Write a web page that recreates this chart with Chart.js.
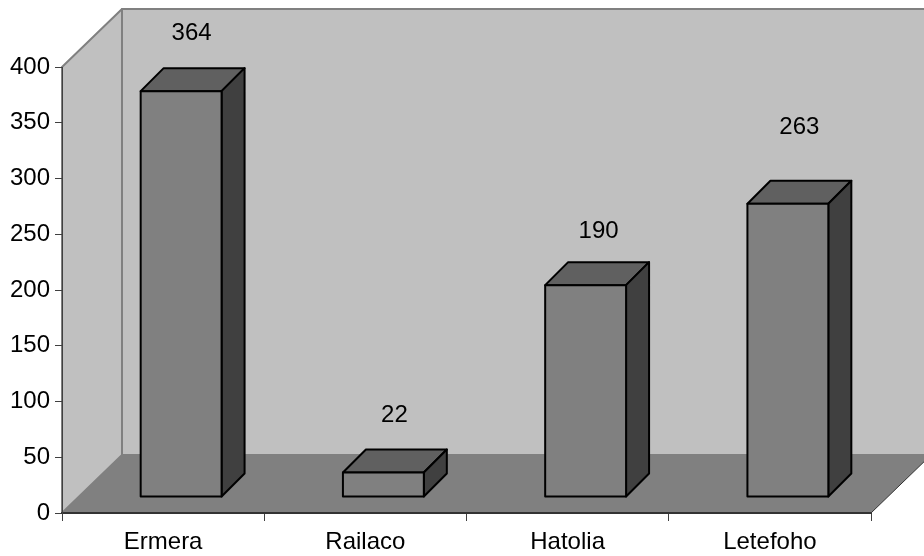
<!DOCTYPE html>
<html>
<head>
<meta charset="utf-8">
<title>Chart</title>
<script src="https://cdn.jsdelivr.net/npm/chart.js@4"></script>
<style>
  html, body { margin: 0; padding: 0; background: #fff; }
  canvas { display: block; }
</style>
</head>
<body>
<canvas id="myChart" width="924" height="556"></canvas>
<script>
const categories = ["Ermera", "Railaco", "Hatolia", "Letefoho"];
const counts = [364, 22, 190, 263];
const yMax = 400;
const yStep = 50;

const fontName = "'Liberation Sans', Arial, sans-serif";
const fontSize = 24;

// depth of the box the chart sits in, and of each bar
const wallDx = 60, wallDy = -58;
const barShiftX = 18, barShiftY = -16;
const barDepth = 23;
// the labels do not sit at one height over the bars in the original
const labelLift = [58, 57, 54, 76];
const labelNudge = [10.5, 11, 13, 11.5];

function poly(ctx, pts, fill, stroke, lw) {
  ctx.beginPath();
  ctx.moveTo(pts[0][0], pts[0][1]);
  for (let i = 1; i < pts.length; i++) ctx.lineTo(pts[i][0], pts[i][1]);
  ctx.closePath();
  if (fill) { ctx.fillStyle = fill; ctx.fill(); }
  if (stroke) { ctx.strokeStyle = stroke; ctx.lineWidth = lw; ctx.lineJoin = "round"; ctx.stroke(); }
}

const box3d = {
  id: "box3d",
  // walls have to go down before the axes are drawn
  beforeDraw(chart) {
    const ctx = chart.ctx;
    const a = chart.chartArea;
    ctx.save();
    // back wall
    poly(ctx, [[a.left + wallDx, a.top + wallDy], [a.right + wallDx, a.top + wallDy],
               [a.right + wallDx, a.bottom + wallDy], [a.left + wallDx, a.bottom + wallDy]],
         "#c0c0c0", "#808080", 2);
    // left wall
    poly(ctx, [[a.left, a.top], [a.left + wallDx, a.top + wallDy],
               [a.left + wallDx, a.bottom + wallDy], [a.left, a.bottom]],
         "#c0c0c0", "#808080", 2);
    // floor
    poly(ctx, [[a.left, a.bottom], [a.left + wallDx, a.bottom + wallDy],
               [a.right + wallDx, a.bottom + wallDy], [a.right, a.bottom]], "#808080");
    ctx.strokeStyle = "#333";
    ctx.lineWidth = 1;
    ctx.beginPath();
    ctx.moveTo(a.right, a.bottom);
    ctx.lineTo(a.right + wallDx, a.bottom + wallDy);
    ctx.stroke();
    ctx.restore();
  },
  beforeDatasetDraw(chart, args) {
    const ctx = chart.ctx;
    ctx.save();
    ctx.translate(barShiftX, barShiftY);
    // top and side faces go under the native front face
    args.meta.data.forEach(function (bar) {
      const l = bar.x - bar.width / 2, r = bar.x + bar.width / 2;
      poly(ctx, [[l, bar.y], [l + barDepth, bar.y - barDepth], [r + barDepth, bar.y - barDepth], [r, bar.y]],
           "#606060", "#000", 2);
      poly(ctx, [[r, bar.y], [r + barDepth, bar.y - barDepth], [r + barDepth, bar.base - barDepth], [r, bar.base]],
           "#404040", "#000", 2);
    });
  },
  afterDatasetDraw(chart, args) {
    const ctx = chart.ctx;
    // outline the front face, centred on its edge
    args.meta.data.forEach(function (bar) {
      const l = bar.x - bar.width / 2, r = bar.x + bar.width / 2;
      poly(ctx, [[l, bar.y], [r, bar.y], [r, bar.base], [l, bar.base]], null, "#000", 2);
    });
    ctx.restore();
    // value labels float over the top face
    ctx.save();
    ctx.font = fontSize + "px " + fontName;
    ctx.fillStyle = "#000";
    ctx.textAlign = "center";
    ctx.textBaseline = "middle";
    args.meta.data.forEach(function (bar, i) {
      ctx.fillText(counts[i], bar.x + barShiftX + labelNudge[i], bar.y + barShiftY - labelLift[i]);
    });
    ctx.restore();
  }
};

new Chart(document.getElementById("myChart").getContext("2d"), {
  type: "bar",
  plugins: [box3d],
  data: {
    labels: categories,
    datasets: [{
      data: counts,
      backgroundColor: "#808080",
      borderWidth: 0,
      barPercentage: 0.4,
      categoryPercentage: 1
    }]
  },
  options: {
    responsive: false,
    animation: false,
    layout: { padding: { left: 0, right: 53, top: 67, bottom: 0 } },
    plugins: { legend: { display: false }, tooltip: { enabled: false } },
    scales: {
      x: {
        afterFit(scale) { scale.height = 43; },
        grid: { drawOnChartArea: false, tickLength: 8, color: "#404040", offset: true },
        border: { color: "#333", width: 2 },
        ticks: { color: "#000", padding: 7, maxRotation: 0, font: { family: fontName, size: fontSize } }
      },
      y: {
        min: 0,
        max: yMax,
        afterFit(scale) { scale.width = 62; },
        grid: { drawOnChartArea: false, tickLength: 7, color: "#404040" },
        border: { color: "#404040", width: 1 },
        ticks: { color: "#000", stepSize: yStep, padding: 5, font: { family: fontName, size: fontSize } }
      }
    }
  }
});
</script>
</body>
</html>
